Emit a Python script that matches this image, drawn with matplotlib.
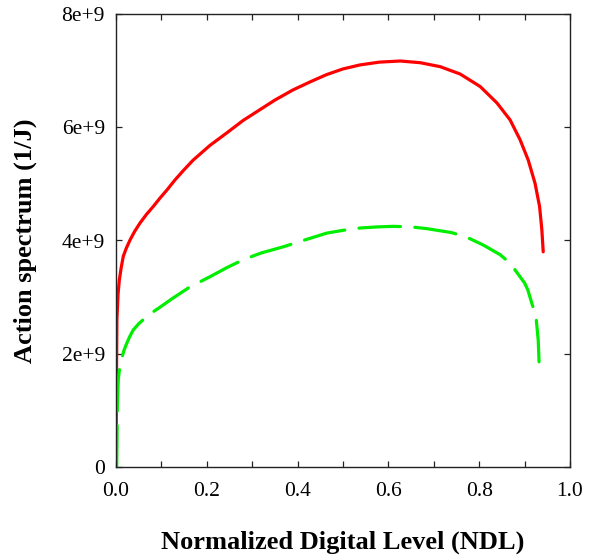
import matplotlib
matplotlib.use("Agg")
import matplotlib.pyplot as plt
import numpy as np

# Action spectrum versus normalized digital level (values in units of 1e9 1/J)
ndl_red = [0.0, 0.001, 0.002, 0.0045, 0.0073, 0.011, 0.016, 0.023, 0.031, 0.041,
           0.053, 0.067, 0.082, 0.097, 0.112, 0.130, 0.150, 0.170, 0.207, 0.244,
           0.280, 0.317, 0.350, 0.390, 0.430, 0.464, 0.500, 0.537, 0.580, 0.626,
           0.670, 0.714, 0.758, 0.802, 0.839, 0.868, 0.890, 0.908, 0.923, 0.933,
           0.938, 0.941]
spec_red = [0.0, 1.50, 2.60, 3.05, 3.30, 3.50, 3.72, 3.87, 4.01, 4.16,
            4.31, 4.46, 4.60, 4.75, 4.89, 5.07, 5.25, 5.42, 5.68, 5.90,
            6.12, 6.31, 6.48, 6.66, 6.81, 6.93, 7.03, 7.10, 7.15, 7.17,
            7.14, 7.07, 6.94, 6.72, 6.43, 6.13, 5.78, 5.42, 5.01, 4.60,
            4.19, 3.80]

ndl_green = [0.0015, 0.003, 0.005, 0.008, 0.0125, 0.018, 0.024, 0.030, 0.038, 0.050,
             0.064, 0.078, 0.093, 0.125, 0.159, 0.185, 0.207, 0.244, 0.280, 0.320,
             0.369, 0.420, 0.464, 0.500, 0.537, 0.575, 0.611, 0.650, 0.684, 0.739,
             0.772, 0.809, 0.846, 0.868, 0.879, 0.890, 0.900, 0.907, 0.916, 0.925,
             0.930, 0.932]
spec_green = [0.0, 1.07, 1.54, 1.75, 1.92, 2.07, 2.19, 2.30, 2.42, 2.53,
              2.63, 2.72, 2.80, 2.98, 3.16, 3.27, 3.36, 3.52, 3.66, 3.78,
              3.89, 4.02, 4.13, 4.18, 4.22, 4.24, 4.25, 4.24, 4.21, 4.14,
              4.06, 3.92, 3.75, 3.60, 3.48, 3.36, 3.25, 3.13, 2.89, 2.66,
              2.24, 1.83]

x_ticks = [0.0, 0.2, 0.4, 0.6, 0.8, 1.0]
x_labels = ["0.0", "0.2", "0.4", "0.6", "0.8", "1.0"]
y_ticks = [0, 2e9, 4e9, 6e9, 8e9]
y_labels = ["0", "2e+9", "4e+9", "6e+9", "8e+9"]

plt.rcParams["font.family"] = ["Liberation Serif", "DejaVu Serif"]

fig = plt.figure(figsize=(5.97, 5.59), dpi=100)
ax = fig.add_axes([116 / 597, 92 / 559, 454 / 597, 453 / 559])

scale = 1e9
ax.plot(ndl_red, np.array(spec_red) * scale, color="#ff0000", lw=2.3,
        solid_capstyle="round", solid_joinstyle="round")
ax.plot(ndl_green, np.array(spec_green) * scale, color="#00ee00", lw=2.3,
        dashes=(13, 4.5), dash_capstyle="round", dash_joinstyle="round")

ax.set_xlim(0, 1.0)
ax.set_ylim(0, 8e9)
ax.set_xticks(x_ticks)
ax.set_xticklabels(x_labels)
ax.set_xticks(np.arange(0.1, 1.0, 0.2), minor=True)
ax.set_yticks(y_ticks)
ax.set_yticklabels(y_labels)

ax.tick_params(axis="both", which="both", direction="in", top=True, right=True,
               length=4, width=0.9, labelsize=15.5, color="#222222")
ax.tick_params(axis="x", pad=11)
ax.tick_params(axis="y", pad=8)
for s in ax.spines.values():
    s.set_linewidth(1.0)
    s.set_color("#222222")

ax.set_xlabel("Normalized Digital Level (NDL)", fontsize=19, fontweight="bold",
              labelpad=21)
ax.set_ylabel("Action spectrum (1/J)", fontsize=19, fontweight="bold",
              labelpad=18)

fig.savefig("out.png", dpi=100)
